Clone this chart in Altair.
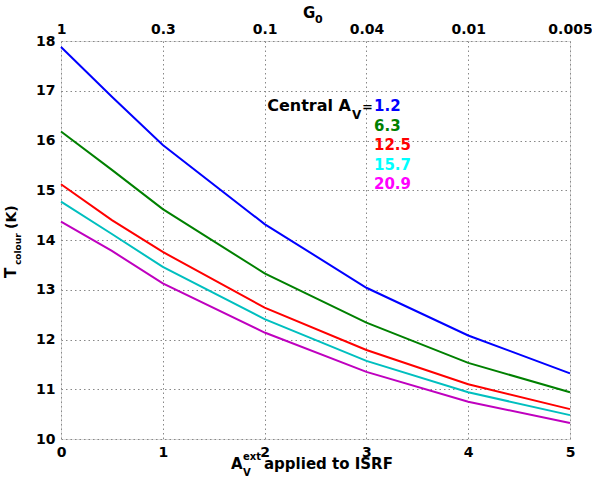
import altair as alt
import pandas as pd

# ---- data ----
x_vals = [0, 0.5, 1, 2, 3, 4, 5]
av_labels = ["1.2", "6.3", "12.5", "15.7", "20.9"]
t_av_1_2 = [17.88, 16.88, 15.91, 14.32, 13.04, 12.08, 11.32]
t_av_6_3 = [16.18, 15.41, 14.62, 13.33, 12.34, 11.53, 10.94]
t_av_12_5 = [15.12, 14.40, 13.76, 12.64, 11.79, 11.10, 10.60]
t_av_15_7 = [14.77, 14.12, 13.46, 12.41, 11.57, 10.94, 10.48]
t_av_20_9 = [14.37, 13.78, 13.13, 12.14, 11.35, 10.75, 10.32]
x_ticks = [0, 1, 2, 3, 4, 5]
y_ticks = [10, 11, 12, 13, 14, 15, 16, 17, 18]
g0_labels = ["1", "0.3", "0.1", "0.04", "0.01", "0.005"]

line_colors = ["#0000ff", "#008000", "#ff0000", "#00bfbf", "#bf00bf"]
text_colors = ["#0000ff", "#008000", "#ff0000", "#00ffff", "#ff00ff"]

series = [t_av_1_2, t_av_6_3, t_av_12_5, t_av_15_7, t_av_20_9]
rows = []
for lab, ys in zip(av_labels, series):
    for xv, yv in zip(x_vals, ys):
        rows.append({"av": lab, "x": xv, "t": yv})
df = pd.DataFrame(rows)

FONT = "DejaVu Sans"
W, H = 509, 398

xscale = alt.Scale(domain=[0, 5], nice=False, zero=False)
yscale = alt.Scale(domain=[10, 18], nice=False, zero=False)

axis_common = dict(
    grid=True, gridColor="#888888", gridDash=[1.5, 3], gridWidth=1,
    ticks=False, domain=False, labelFont=FONT, labelFontSize=14,
    labelFontWeight="bold", labelColor="black", title=None, labelFlush=False,
)

lines = alt.Chart(df).mark_line(strokeWidth=2).encode(
    x=alt.X("x:Q", scale=xscale,
            axis=alt.Axis(values=x_ticks, format="d", labelPadding=6, **axis_common)),
    y=alt.Y("t:Q", scale=yscale,
            axis=alt.Axis(values=y_ticks, format="d", labelPadding=6, **axis_common)),
    color=alt.Color("av:N", scale=alt.Scale(domain=av_labels, range=line_colors), legend=None),
    order=alt.Order("x:Q"),
)

label_expr = "[" + ",".join("'%s'" % g for g in g0_labels) + "][datum.value]"
top_df = pd.DataFrame({"x": x_ticks})
top_axis = alt.Chart(top_df).mark_point(opacity=0).encode(
    x=alt.X("x:Q", scale=xscale,
            axis=alt.Axis(orient="top", values=x_ticks, labelExpr=label_expr,
                          grid=False, ticks=False, domain=False, labelFont=FONT,
                          labelFontSize=14, labelFontWeight="bold", labelFlush=False,
                          labelColor="black", labelPadding=5, title=None)),
)


def txt(s, px, py, size=15, color="black", align="left", baseline="alphabetic", angle=0):
    return alt.Chart(pd.DataFrame({"a": [0]})).mark_text(
        text=s, font=FONT, fontSize=size, fontWeight="bold", color=color,
        align=align, baseline=baseline, angle=angle,
    ).encode(x=alt.value(px - 61), y=alt.value(py - 41))


annots = [
    # x-axis title
    txt("A", 231, 469), txt("ext", 243, 460, size=10), txt("V", 243, 476, size=10),
    txt("applied to ISRF", 264, 469),
    # top axis title
    txt("G", 303, 18), txt("0", 315, 23, size=11),
    # y-axis title (rotated)
    txt("T", 16, 278, angle=270), txt("colour", 21, 265, size=9, angle=270),
    txt("(K)", 16, 229, size=14, angle=270),
    # legend text
    txt("Central A", 351, 111, size=16, align="right"), txt("V", 352, 119, size=12),
    txt("=", 362, 111, size=13),
]
for i, (lab, c) in enumerate(zip(av_labels, text_colors)):
    annots.append(txt(lab, 374, 111 + i * 19.5, size=15, color=c))

chart = alt.layer(lines, top_axis, *annots).resolve_axis(x="independent").properties(
    width=W, height=H,
    autosize=alt.AutoSizeParams(type="none"),
    padding={"left": 61, "top": 41, "right": 22, "bottom": 50},
).configure_view(stroke="black", strokeWidth=2.5).configure(background="white")

chart.save("out.html", embed_options={"renderer": "svg", "actions": False})
